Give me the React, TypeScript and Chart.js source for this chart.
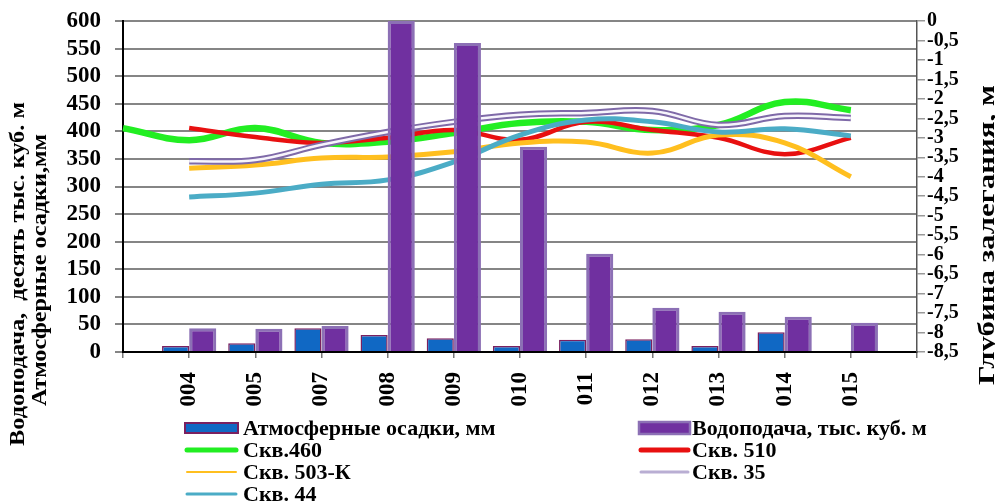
import React, { useEffect, useRef } from "react";
import { Chart, registerables } from "chart.js";
Chart.register(...registerables);

const FONT = "'Liberation Serif', 'Times New Roman', serif";

const years = ["", "004", "005", "007", "008", "009", "010", "011", "012", "013", "014", "015", ""];
const precipitation = [null, 11, 16, 43, 31, 25, 11, 22, 23, 11, 36, null, null];
const waterSupply = [null, 43, 42, 47, 600, 560, 372, 178, 80, 73, 64, 53, null];
const sk460 = [-2.75, -3.06, -2.75, -3.13, -3.1, -2.88, -2.62, -2.59, -2.8, -2.67, -2.08, -2.29, null];
const sk510 = [null, -2.75, -2.98, -3.13, -3.0, -2.8, -3.05, -2.59, -2.8, -3.0, -3.42, -3.0, null];
const sk503K = [null, -3.78, -3.7, -3.52, -3.49, -3.36, -3.13, -3.11, -3.39, -2.93, -3.13, -4.0, null];
const sk35 = [null, -3.6, -3.57, -3.18, -2.85, -2.59, -2.41, -2.36, -2.31, -2.67, -2.44, -2.49, null];
const sk44 = [null, -4.52, -4.42, -4.19, -4.08, -3.62, -2.93, -2.54, -2.59, -2.85, -2.77, -2.95, null];

const leftTitle1 = "Водоподача,  десять тыс. куб. м";
const leftTitle2 = "Атмосферные осадки,мм";
const rightTitle = "Глубина залегания, м";
const legendLabels = [
  "Атмосферные осадки, мм",
  "Водоподача, тыс. куб. м",
  "Скв.460",
  "Скв. 510",
  "Скв. 503-К",
  "Скв. 35",
  "Скв. 44",
];

function drawRotText(ctx: CanvasRenderingContext2D, text: string, cx: number, cy: number, font: string, targetLen: number) {
  ctx.save();
  ctx.font = font;
  ctx.translate(cx, cy);
  ctx.rotate(-Math.PI / 2);
  const w = ctx.measureText(text).width;
  ctx.scale(targetLen / w, 1);
  ctx.textAlign = "center";
  ctx.textBaseline = "middle";
  ctx.fillStyle = "#000";
  ctx.fillText(text, 0, 0);
  ctx.restore();
}

const decorPlugin = {
  id: "decor",
  afterDraw(chart: any) {
    const ctx: CanvasRenderingContext2D = chart.ctx;
    drawRotText(ctx, leftTitle1, 11, 266, `bold 20px ${FONT}`, 344);
    drawRotText(ctx, leftTitle2, 33, 262, `bold 20px ${FONT}`, 272);
    drawRotText(ctx, rightTitle, 980, 227, `bold 24px ${FONT}`, 300);

    // legend
    const rows = [420, 442, 464, 486];
    const lx = 177, lw = 53, ltx = 235;
    const rx = 631, rw = 51, rtx = 684;
    ctx.save();
    ctx.font = `bold 22px ${FONT}`;
    ctx.textBaseline = "middle";
    ctx.textAlign = "left";
    ctx.fillStyle = "#1068C4";
    ctx.fillRect(lx, rows[0] - 5, lw, 10);
    ctx.strokeStyle = "#7a2060";
    ctx.lineWidth = 2;
    ctx.strokeRect(lx, rows[0] - 5, lw, 10);
    ctx.fillStyle = "#7030A0";
    ctx.fillRect(rx, rows[0] - 6, rw, 12);
    ctx.strokeStyle = "#8C70B5";
    ctx.lineWidth = 2.5;
    ctx.strokeRect(rx, rows[0] - 6, rw, 12);
    const line = (x: number, y: number, w: number, color: string, lw2: number) => {
      ctx.beginPath();
      ctx.strokeStyle = color;
      ctx.lineWidth = lw2;
      ctx.lineCap = "round";
      ctx.moveTo(x, y);
      ctx.lineTo(x + w, y);
      ctx.stroke();
    };
    line(lx + 2, rows[1], lw - 4, "#22EE22", 5);
    line(rx + 2, rows[1], rw - 4, "#E81010", 5);
    line(lx + 2, rows[2], lw - 4, "#FFBF1F", 2);
    line(rx + 2, rows[2], rw - 4, "#B9AED3", 3);
    line(lx + 2, rows[3], lw - 4, "#4BACC6", 3);
    ctx.fillStyle = "#000";
    ctx.fillText(legendLabels[0], ltx, rows[0] + 1);
    ctx.fillText(legendLabels[1], rtx, rows[0] + 1);
    ctx.fillText(legendLabels[2], ltx, rows[1] + 1);
    ctx.fillText(legendLabels[3], rtx, rows[1] + 1);
    ctx.fillText(legendLabels[4], ltx, rows[2] + 1);
    ctx.fillText(legendLabels[5], rtx, rows[2] + 1);
    ctx.fillText(legendLabels[6], ltx, rows[3] + 1);
    ctx.restore();
  },
};

export default function App() {
  const ref = useRef<HTMLCanvasElement | null>(null);
  useEffect(() => {
    document.documentElement.style.overflow = "hidden";
    document.body.style.overflow = "hidden";
    const canvas = ref.current!;
    const lineBase = { type: "line" as const, yAxisID: "y1", pointRadius: 0, tension: 0.4, fill: false, spanGaps: false };
    const chart = new Chart(canvas, {
      type: "bar",
      data: {
        labels: years,
        datasets: [
          {
            type: "bar",
            label: legendLabels[0],
            data: precipitation,
            yAxisID: "y",
            backgroundColor: "#1068C4",
            borderColor: "#7a2060",
            borderWidth: 1.5,
            categoryPercentage: 0.82,
            barPercentage: 1,
            order: 0,
          },
          {
            type: "bar",
            label: legendLabels[1],
            data: waterSupply,
            yAxisID: "y",
            backgroundColor: "#7030A0",
            borderColor: "#8C70B5",
            borderWidth: 3,
            categoryPercentage: 0.82,
            barPercentage: 1,
            order: 0,
          },
          { ...lineBase, label: legendLabels[6], data: sk44, borderColor: "#4BACC6", borderWidth: 5, order: 1 },
          { ...lineBase, label: legendLabels[5] + " inner", data: sk35, borderColor: "#F7F5FC", borderWidth: 2.5, order: 2 },
          { ...lineBase, label: legendLabels[5], data: sk35, borderColor: "#7F6AA8", borderWidth: 6.5, order: 3 },
          { ...lineBase, label: legendLabels[4], data: sk503K, borderColor: "#FFBF1F", borderWidth: 5, order: 4 },
          { ...lineBase, label: legendLabels[3], data: sk510, borderColor: "#E81010", borderWidth: 4.5, order: 5 },
          { ...lineBase, label: legendLabels[2], data: sk460, borderColor: "#22EE22", borderWidth: 6.5, order: 6 },
        ] as any,
      },
      options: {
        responsive: false,
        maintainAspectRatio: false,
        animation: false,
        devicePixelRatio: 1,
        layout: { padding: { top: 13, left: 0, right: 0, bottom: 0 } },
        plugins: { legend: { display: false }, tooltip: { enabled: false } },
        scales: {
          x: {
            type: "category",
            offset: false,
            grid: { offset: false, drawOnChartArea: false, tickLength: 6, color: "#777", lineWidth: 1.5 },
            border: { color: "#000", width: 2 },
            ticks: {
              autoSkip: false,
              maxRotation: 90,
              minRotation: 90,
              padding: 14,
              color: "#000",
              font: { family: FONT, size: 23, weight: "bold" },
            },
            afterFit: (s: any) => {
              s.height = 150;
              s.paddingTop = 0;
              s.paddingBottom = 0;
              s.paddingLeft = 0;
              s.paddingRight = 0;
            },
          },
          y: {
            type: "linear",
            position: "left",
            min: 0,
            max: 600,
            ticks: { stepSize: 50, autoSkip: false, padding: 14, color: "#000", font: { family: FONT, size: 23, weight: "bold" } },
            grid: { color: "#858585", lineWidth: 2, tickLength: 8 },
            border: { color: "#000", width: 2 },
            afterFit: (s: any) => {
              s.width = 115;
              s.paddingTop = 0;
              s.paddingBottom = 0;
            },
          },
          y1: {
            type: "linear",
            position: "right",
            min: -8.5,
            max: 0,
            ticks: {
              stepSize: 0.5,
              autoSkip: false,
              padding: 2,
              color: "#000",
              font: { family: FONT, size: 20, weight: "bold" },
              callback: (v: any) => String(v).replace(".", ","),
            },
            grid: { drawOnChartArea: false, tickLength: 8, color: "#999", lineWidth: 1.5 },
            border: { color: "#555", width: 1.5 },
            afterFit: (s: any) => {
              s.width = 78;
              s.paddingTop = 0;
              s.paddingBottom = 0;
            },
          },
        },
      } as any,
      plugins: [decorPlugin],
    });
    return () => chart.destroy();
  }, []);
  return (
    <div style={{ position: "relative", width: 987, height: 494 }}>
      <canvas ref={ref} width={987} height={494} style={{ width: 987, height: 494, display: "block" }} />
    </div>
  );
}
